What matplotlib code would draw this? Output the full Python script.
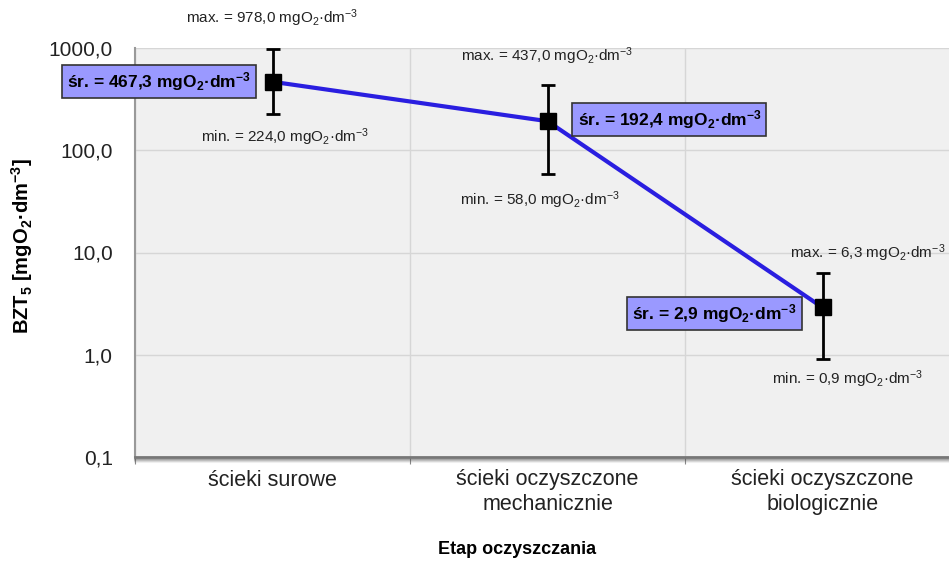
import matplotlib.pyplot as plt
import matplotlib.ticker as mticker
import matplotlib.transforms as mtransforms
import numpy as np

plt.rcParams['font.family'] = ['Liberation Sans', 'DejaVu Sans']
plt.rcParams['mathtext.fontset'] = 'custom'
plt.rcParams['mathtext.rm'] = 'Liberation Sans'
plt.rcParams['mathtext.it'] = 'Liberation Sans:italic'
plt.rcParams['mathtext.bf'] = 'Liberation Sans:bold'

# dane
etapy = ['ścieki surowe', 'ścieki oczyszczone\nmechanicznie', 'ścieki oczyszczone\nbiologicznie']
sr = np.array([467.3, 192.4, 2.9])
mx = np.array([978.0, 437.0, 6.3])
mn = np.array([224.0, 58.0, 0.9])
y_ticks = [0.1, 1, 10, 100, 1000]
y_labels = ['0,1', '1,0', '10,0', '100,0', '1000,0']

fig = plt.figure(figsize=(9.49, 5.67), dpi=100)
ax = fig.add_axes([135 / 949, 1 - 457 / 567, 825 / 949, 409 / 567])
ax.set_facecolor('#f0f0f0')

x = np.arange(len(etapy)) + 0.5
ax.set_yscale('log')
ax.set_ylim(0.1, 1000)
ax.set_xlim(0, 3)

ax.plot(x, sr, color='#2a1ee0', lw=3, zorder=3)
ax.errorbar(x, sr, yerr=[sr - mn, mx - sr], fmt='s', color='black', ms=12,
            ecolor='black', elinewidth=2, capsize=5, capthick=2, zorder=4)

# siatka
ax.set_yticks(y_ticks)
ax.set_yticklabels(y_labels, fontsize=15, color='#222222')
ax.yaxis.set_minor_locator(mticker.NullLocator())
ax.tick_params(axis='y', length=0, pad=16)
ax.grid(axis='y', color='#d6d6d6', lw=1)
ax.set_xticks([0, 1, 2, 3])
ax.set_xticklabels([])
ax.set_xticks(x, minor=True)
ax.set_xticklabels(etapy, minor=True, fontsize=15.5, color='#222222')
ax.tick_params(axis='x', which='major', length=5, color='#888888')
ax.tick_params(axis='x', which='minor', length=0, pad=9)
ax.grid(axis='x', which='major', color='#d6d6d6', lw=1)
ax.set_axisbelow(True)

for s in ['top', 'right']:
    ax.spines[s].set_visible(False)
ax.spines['left'].set_color('#999999')
ax.spines['left'].set_linewidth(1.5)
ax.spines['bottom'].set_color('#777777')
ax.spines['bottom'].set_linewidth(2)
# cien pod osia
for i, a in enumerate([0.35, 0.25, 0.15, 0.08]):
    ln = ax.axhline(0.1, color='#555555', lw=1.5, alpha=a, clip_on=False)
    ln.set_transform(ln.get_transform() +
                     mtransforms.ScaledTranslation(0, -(i + 1.5) / 100, fig.dpi_scale_trans))

ax.set_ylabel(r'BZT$_\mathbf{5}$ [mgO$_\mathbf{2}$·dm$^\mathbf{-3}$]',
              fontsize=14.5, fontweight='bold')
ax.yaxis.set_label_coords(-0.121, 0.515)
fig.text(517 / 949, 1 - 550 / 567, 'Etap oczyszczania', fontsize=13,
         fontweight='bold', ha='center', va='center')

unit = r' mgO$_2$·dm$^{-3}$'
unit_b = r' mgO$_\mathbf{2}$·dm$^\mathbf{-3}$'


def fmt(v):
    return ('%.1f' % v).replace('.', ',')


box = dict(boxstyle='square,pad=0.3', fc='#9a99ff', ec='#333333', lw=1.2)
# przesuniecia opisow [px]
off_max = [(0, 64), (0, 65), (45, 54)]
off_min = [(13, -55), (-8, -79), (25, -72)]
off_sr = [(-22, 0, 'right'), (30, 2, 'left'), (-26, -6, 'right')]
for i in range(3):
    ax.annotate('max. = ' + fmt(mx[i]) + unit, (x[i], sr[i]), xytext=off_max[i],
                textcoords='offset pixels', ha='center', va='center',
                fontsize=11, color='#222222', annotation_clip=False)
    ax.annotate('min. = ' + fmt(mn[i]) + unit, (x[i], sr[i]), xytext=off_min[i],
                textcoords='offset pixels', ha='center', va='center',
                fontsize=11, color='#222222', annotation_clip=False)
    dx, dy, ha = off_sr[i]
    ax.annotate('śr. = ' + fmt(sr[i]) + unit_b, (x[i], sr[i]), xytext=(dx, dy),
                textcoords='offset pixels', ha=ha, va='center',
                fontsize=12.5, fontweight='bold', bbox=box, zorder=6,
                annotation_clip=False)

fig.savefig('out.png', dpi=100)
